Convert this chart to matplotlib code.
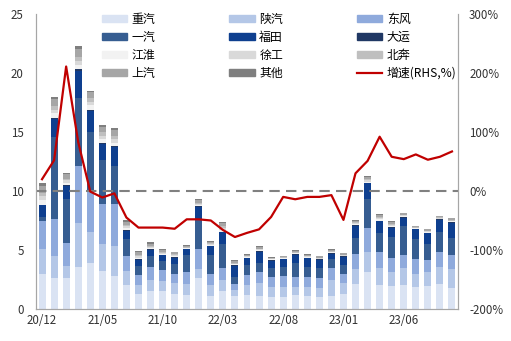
import matplotlib
matplotlib.use("Agg")
import matplotlib.pyplot as plt
from matplotlib.patches import Patch
from matplotlib.lines import Line2D
import numpy as np

plt.rcParams['font.family'] = ['Noto Sans CJK SC', 'DejaVu Sans']

months = ['20/12', '21/01', '21/02', '21/03', '21/04', '21/05', '21/06', '21/07', '21/08',
          '21/09', '21/10', '21/11', '21/12', '22/01', '22/02', '22/03', '22/04', '22/05',
          '22/06', '22/07', '22/08', '22/09', '22/10', '22/11', '22/12', '23/01', '23/02',
          '23/03', '23/04', '23/05', '23/06', '23/07', '23/08', '23/09', '23/10']
tick_labels = ['20/12', '21/05', '21/10', '22/03', '22/08', '23/01', '23/06']

# sales by brand (10k units)
zhongqi = [3.0, 2.6, 2.6, 3.6, 3.9, 3.25, 2.8, 2.0, 1.3, 1.5, 1.5, 1.25, 1.2, 2.6, 1.1, 1.5, 1.1, 1.2,
           1.1, 1.0, 1.0, 1.2, 1.1, 1.0, 1.1, 1.3, 2.1, 3.15, 2.0, 1.95, 2.0, 1.9, 1.95, 2.1, 1.8]
shanqi = [2.1, 1.9, 1.05, 3.7, 2.6, 2.25, 2.5, 1.2, 0.7, 1.0, 0.9, 0.95, 0.9, 0.8, 0.9, 1.0, 0.5, 0.8,
          1.1, 0.9, 0.9, 0.7, 0.8, 0.8, 1.4, 0.9, 1.25, 1.7, 1.45, 1.15, 1.45, 1.05, 1.15, 1.45, 1.55]
dongfeng = [2.4, 3.1, 1.95, 4.8, 3.4, 3.4, 3.6, 1.3, 0.9, 1.1, 0.9, 0.8, 1.0, 1.7, 1.0, 1.0, 0.5, 0.9,
            0.9, 0.8, 0.9, 0.85, 0.8, 0.8, 1.0, 0.8, 1.3, 2.05, 1.4, 1.25, 1.15, 1.25, 1.05, 1.3, 1.25]
yiqi = [0.3, 7.0, 3.7, 5.8, 5.1, 3.7, 3.2, 1.4, 0.75, 0.9, 0.75, 0.85, 1.5, 2.5, 1.6, 2.0, 0.65, 0.8,
        0.8, 0.8, 0.8, 1.15, 0.9, 0.9, 0.7, 0.7, 1.35, 2.4, 1.6, 1.75, 2.4, 1.7, 1.35, 1.7, 1.4]
futian = [1.0, 1.5, 1.1, 2.3, 1.8, 1.4, 1.6, 0.75, 0.5, 0.5, 0.5, 0.5, 0.45, 1.05, 0.7, 1.0, 0.9, 0.6,
          0.95, 0.6, 0.6, 0.7, 0.7, 0.65, 0.5, 0.7, 1.05, 1.35, 1.0, 0.8, 0.75, 0.85, 0.9, 1.0, 1.3]
dayun = [0.05, 0.1, 0.1, 0.1, 0.1, 0.1, 0.1, 0.05, 0.05, 0.05, 0.05, 0.05, 0.05, 0.05, 0.05, 0.05, 0.05, 0.05,
         0.05, 0.05, 0.05, 0.05, 0.05, 0.05, 0.05, 0.05, 0.05, 0.05, 0.05, 0.05, 0.05, 0.05, 0.05, 0.05, 0.05]
jianghuai = [0.4, 0.4, 0.2, 0.4, 0.35, 0.3, 0.3, 0.15, 0.15, 0.1, 0.1, 0.1, 0.06, 0.1, 0.08, 0.15, 0.08, 0.06,
             0.08, 0.05, 0.05, 0.07, 0.06, 0.06, 0.06, 0.06, 0.09, 0.1, 0.1, 0.1, 0.07, 0.05, 0.07, 0.06, 0.08]
xugong = [0.3, 0.3, 0.2, 0.35, 0.3, 0.3, 0.3, 0.15, 0.1, 0.1, 0.08, 0.08, 0.05, 0.1, 0.07, 0.15, 0.07, 0.05,
          0.07, 0.04, 0.04, 0.06, 0.05, 0.05, 0.05, 0.05, 0.08, 0.1, 0.1, 0.09, 0.06, 0.04, 0.06, 0.05, 0.07]
beiben = [0.3, 0.3, 0.15, 0.3, 0.3, 0.3, 0.3, 0.15, 0.1, 0.1, 0.07, 0.07, 0.05, 0.1, 0.07, 0.15, 0.07, 0.05,
          0.07, 0.04, 0.04, 0.06, 0.05, 0.05, 0.05, 0.05, 0.08, 0.1, 0.1, 0.09, 0.06, 0.04, 0.06, 0.05, 0.07]
shangqi = [0.6, 0.6, 0.35, 0.65, 0.5, 0.45, 0.45, 0.25, 0.25, 0.2, 0.15, 0.15, 0.1, 0.2, 0.13, 0.3, 0.15, 0.1,
           0.13, 0.08, 0.08, 0.11, 0.1, 0.1, 0.1, 0.1, 0.14, 0.2, 0.18, 0.16, 0.11, 0.08, 0.11, 0.1, 0.13]
qita = [0.2, 0.2, 0.1, 0.3, 0.15, 0.15, 0.15, 0.1, 0.1, 0.1, 0.05, 0.05, 0.04, 0.1, 0.05, 0.1, 0.08, 0.04,
        0.05, 0.04, 0.04, 0.05, 0.04, 0.04, 0.04, 0.04, 0.06, 0.1, 0.07, 0.06, 0.05, 0.04, 0.05, 0.04, 0.05]
# yoy growth (%), right axis
growth = [20, 52, 211, 83, -1, -11, -4, -45, -62, -62, -62, -64, -48, -48, -50, -66, -78, -71,
          -65, -44, -10, -14, -10, -10, -7, -49, 30, 51, 92, 58, 54, 62, 53, 58, 67]

names = ['重汽', '陕汽', '东风', '一汽', '福田', '大运', '江淮', '徐工', '北奔', '上汽', '其他']
series = [zhongqi, shanqi, dongfeng, yiqi, futian, dayun, jianghuai, xugong, beiben, shangqi, qita]
colors = ['#DAE3F3', '#B4C7E7', '#8FAADC', '#365D91', '#0E3F8F', '#203864',
          '#F2F2F2', '#D9D9D9', '#BFBFBF', '#A6A6A6', '#7F7F7F']

fig = plt.figure(figsize=(5.11, 3.41), dpi=100)
ax = fig.add_axes([36/511, 32/341, 422/511, 295/341])
x = np.arange(len(months))
bottom = np.zeros(len(months))
for vals, c in zip(series, colors):
    ax.bar(x, vals, 0.58, bottom=bottom, color=c, linewidth=0)
    bottom += np.array(vals)

ax.set_xlim(-0.5, len(months) - 0.5)
ax.set_ylim(0, 25)
ax.set_yticks([0, 5, 10, 15, 20, 25])
ax.set_xticks([months.index(t) for t in tick_labels])
ax.set_xticklabels(tick_labels)
ax.tick_params(length=0, labelsize=8.3, colors='#333333')
ax.tick_params(axis='y', pad=9)
ax.spines['top'].set_visible(False)
for s in ['left', 'right', 'bottom']:
    ax.spines[s].set_color('#A6A6A6')

ax2 = ax.twinx()
ax2.set_ylim(-200, 300)
ax2.set_yticks([-200, -100, 0, 100, 200, 300])
ax2.set_yticklabels([f'{v}%' for v in [-200, -100, 0, 100, 200, 300]])
ax2.tick_params(length=0, labelsize=8.3, colors='#333333', pad=8)
ax2.spines['top'].set_visible(False)
for s in ['left', 'right', 'bottom']:
    ax2.spines[s].set_color('#A6A6A6')
ax2.axhline(0, color='#808080', lw=1.5, dashes=(5, 3))
ax2.plot(x, growth, color='#C00000', lw=1.6)

handles = [Patch(color=c) for c in colors] + [Line2D([], [], color='#C00000', lw=1.6)]
labels = names + ['增速(RHS,%)']
order = [0, 3, 6, 9, 1, 4, 7, 10, 2, 5, 8, 11]
fig.legend([handles[i] for i in order], [labels[i] for i in order], ncol=3,
           loc='upper left', bbox_to_anchor=(91/511, 1 - 2/341), frameon=False,
           fontsize=8.6, handlelength=2.1, handleheight=0.45, handletextpad=0.4,
           columnspacing=6.2, labelspacing=0.42)

fig.savefig('out.png', dpi=100)
